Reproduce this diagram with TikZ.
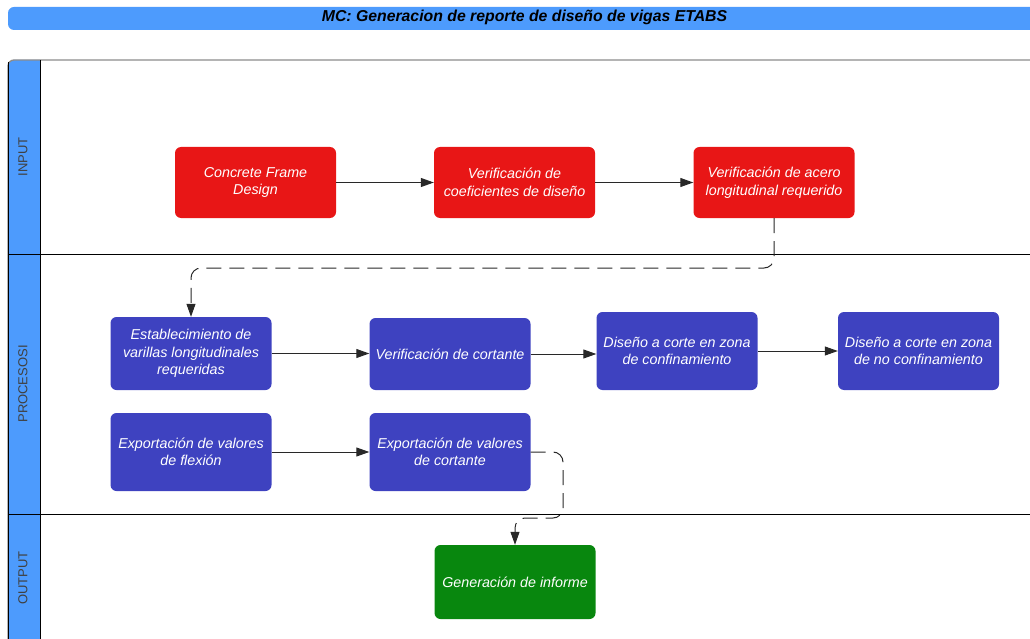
\documentclass[tikz,border=0pt]{standalone}
\usepackage{fontspec}
\setmainfont{Liberation Sans}
\usetikzlibrary{arrows.meta}
\definecolor{laneblue}{RGB}{77,155,253}
\definecolor{inred}{RGB}{232,22,22}
\definecolor{procblue}{RGB}{62,66,192}
\definecolor{outgreen}{RGB}{8,135,14}
\definecolor{linegray}{RGB}{40,40,40}
\begin{document}
\begin{tikzpicture}[x=1pt,y=-1pt,
    box/.style={rounded corners=6pt,minimum width=161pt,align=center,text=white,
      font=\fontsize{14.3}{17.5}\selectfont\itshape},
    flow/.style={linegray,line width=1pt,-{Triangle[length=13pt,width=9pt]}},
    dashflow/.style={flow,dash pattern=on 15pt off 8pt,rounded corners=10pt},
    lanelabel/.style={rotate=90,text=black!75,font=\fontsize{13}{15}\selectfont}]
  \useasboundingbox (0,0) rectangle (1030,639);
  \clip (0,0) rectangle (1030,639);
  \fill[laneblue,rounded corners=6pt] (8,7) rectangle (1060,30);
  \node (title) at (524.5,17.5) {\fontsize{15.8}{18}\selectfont\bfseries\itshape MC: Generacion de reporte de diseño de vigas ETABS};
  \begin{scope}
    \clip (0,0) rectangle (40,639);
    \fill[laneblue,rounded corners=6pt] (8,60) rectangle (80,700);
  \end{scope}
  \draw[black!45,line width=1.3pt,rounded corners=6pt] (8,700) -- (8,60) -- (1040,60);
  \draw[black,line width=0.8pt] (8,62) -- (8,700);
  \draw[black,line width=1pt] (40,60) -- (40,700);
  \draw[black,line width=1pt] (8,254) -- (1040,254);
  \draw[black,line width=1pt] (8,514) -- (1040,514);
  \node[lanelabel] (lin) at (23,157) {INPUT};
  \node[lanelabel] (lproc) at (23,384) {PROCESOSI};
  \node[lanelabel] (lout) at (23,578) {OUTPUT};

  \node[box,fill=inred,minimum height=71pt] (cfd) at (255.5,182.5) {Concrete Frame\\Design};
  \node[box,fill=inred,minimum height=71pt] (vcoef) at (514.5,182.5) {Verificación de\\coeficientes de diseño};
  \node[box,fill=inred,minimum height=71pt] (vacero) at (774,182.5) {Verificación de acero\\longitudinal requerido};

  \node[box,fill=procblue,minimum height=73pt] (varillas) at (191,353.5) {Establecimiento de\\varillas longitudinales\\requeridas};
  \node[box,fill=procblue,minimum height=72pt] (vcort) at (450,354) {Verificación de cortante};
  \node[box,fill=procblue,minimum height=78pt] (conf) at (677,351) {Diseño a corte en zona\\de confinamiento};
  \node[box,fill=procblue,minimum height=78pt] (noconf) at (918.5,351) {Diseño a corte en zona\\de no confinamiento};
  \node[box,fill=procblue,minimum height=78pt] (expflex) at (191,452) {Exportación de valores\\de flexión};
  \node[box,fill=procblue,minimum height=78pt] (expcort) at (450,452) {Exportación de valores\\de cortante};

  \node[box,fill=outgreen,minimum height=74pt] (informe) at (515,582) {Generación de informe};

  \coordinate (bend1) at (480,268);
  \coordinate (bend2) at (563,518);
  \draw[flow] (cfd) -- (vcoef);
  \draw[flow] (vcoef) -- (vacero);
  \draw[dashflow] (vacero.south) |- (bend1) -| (varillas.north);
  \draw[flow] (varillas.east) -- (varillas.east -| vcort.west);
  \draw[flow] (vcort.east) -- (vcort.east -| conf.west);
  \draw[flow] (conf) -- (noconf);
  \draw[flow] (expflex) -- (expcort);
  \draw[dashflow] (expcort.east) -| (bend2) -| (informe.north);
\end{tikzpicture}
\end{document}
